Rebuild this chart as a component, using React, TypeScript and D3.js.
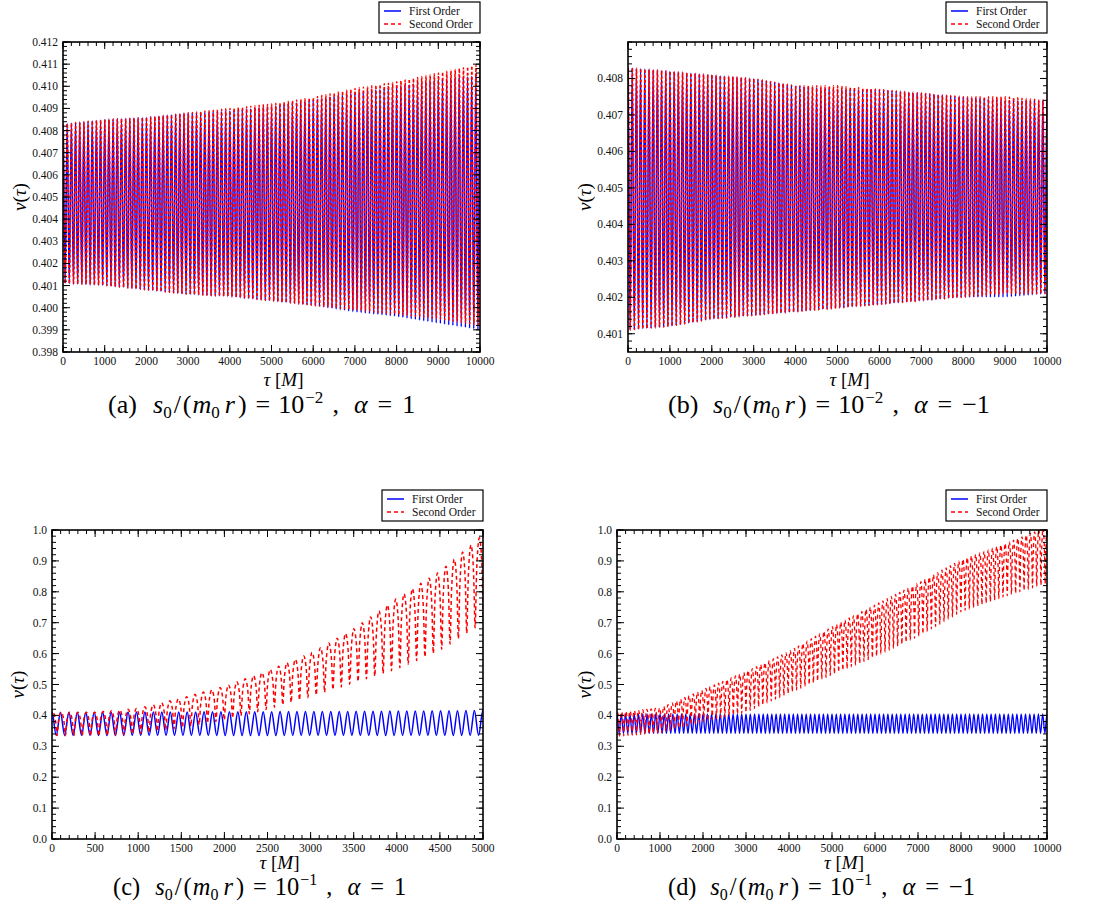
import React from 'react';
import * as d3 from 'd3';

const tauLong = [0, 1000, 2000, 3000, 4000, 5000, 6000, 7000, 8000, 9000, 10000];
const tauShort = [0, 500, 1000, 1500, 2000, 2500, 3000, 3500, 4000, 4500, 5000];

// (a) s0/(m0 r) = 1e-2, alpha = 1
const aFirstUpper = [0.4083, 0.4085, 0.4086, 0.4088, 0.4089, 0.4091, 0.4094, 0.4097, 0.4100, 0.4103, 0.4105];
const aFirstLower = [0.4011, 0.4010, 0.4008, 0.4006, 0.4005, 0.4003, 0.4001, 0.3998, 0.3996, 0.3993, 0.3990];
const aSecondUpper = [0.4083, 0.4085, 0.4086, 0.4088, 0.4090, 0.4092, 0.4095, 0.4099, 0.4102, 0.4106, 0.4110];
const aSecondLower = [0.4011, 0.4010, 0.4008, 0.4006, 0.4005, 0.4003, 0.4001, 0.3999, 0.3997, 0.3995, 0.3992];

// (b) s0/(m0 r) = 1e-2, alpha = -1
const bFirstUpper = [0.4083, 0.4082, 0.4081, 0.4080, 0.4078, 0.4077, 0.4077, 0.4076, 0.4075, 0.4074, 0.4074];
const bFirstLower = [0.4011, 0.4012, 0.4014, 0.4015, 0.4016, 0.4017, 0.4018, 0.4019, 0.4020, 0.4020, 0.4021];
const bSecondUpper = [0.4083, 0.4082, 0.4081, 0.4080, 0.4078, 0.4078, 0.4077, 0.4076, 0.4075, 0.4075, 0.4074];
const bSecondLower = [0.4011, 0.4012, 0.4014, 0.4015, 0.4016, 0.4017, 0.4018, 0.4019, 0.4020, 0.4021, 0.4021];

// (c) s0/(m0 r) = 1e-1, alpha = 1
const cFirstUpper = [0.410, 0.410, 0.411, 0.411, 0.412, 0.412, 0.413, 0.413, 0.414, 0.415, 0.416];
const cFirstLower = [0.335, 0.335, 0.335, 0.335, 0.335, 0.335, 0.335, 0.335, 0.335, 0.335, 0.335];
const cSecondUpper = [0.410, 0.410, 0.423, 0.456, 0.494, 0.545, 0.601, 0.680, 0.779, 0.866, 0.985];
const cSecondLower = [0.335, 0.333, 0.340, 0.360, 0.385, 0.420, 0.460, 0.505, 0.550, 0.610, 0.700];

// (d) s0/(m0 r) = 1e-1, alpha = -1
const dFirstUpper = [0.405, 0.405, 0.405, 0.405, 0.405, 0.405, 0.405, 0.405, 0.405, 0.405, 0.405];
const dFirstLower = [0.342, 0.342, 0.342, 0.342, 0.342, 0.342, 0.342, 0.342, 0.342, 0.342, 0.342];
const dSecondUpper = [0.410, 0.424, 0.483, 0.542, 0.607, 0.687, 0.758, 0.828, 0.903, 0.955, 1.010];
const dSecondLower = [0.332, 0.343, 0.380, 0.410, 0.472, 0.531, 0.590, 0.655, 0.735, 0.784, 0.828];

// oscillation periods
const periodsFirst = [100, 100, 98, 100];
const periodsSecond = [100, 100, 97, 98];

// one cycle, as fraction of the drop from upper to lower envelope
const sineCycle = [0, 1];
const cuspCycle = [0, 0.1, 0.4, 1, 0.4, 0.1];

// tick labels
const yTicksA = [0.398, 0.399, 0.4, 0.401, 0.402, 0.403, 0.404, 0.405, 0.406, 0.407, 0.408, 0.409, 0.41, 0.411, 0.412];
const yTicksB = [0.401, 0.402, 0.403, 0.404, 0.405, 0.406, 0.407, 0.408];
const yTicksCD = [0, 0.1, 0.2, 0.3, 0.4, 0.5, 0.6, 0.7, 0.8, 0.9, 1.0];
const xTicksLong = [0, 1000, 2000, 3000, 4000, 5000, 6000, 7000, 8000, 9000, 10000];
const xTicksShort = [0, 500, 1000, 1500, 2000, 2500, 3000, 3500, 4000, 4500, 5000];

const legendLabels = ['First Order', 'Second Order'];

const BLUE = '#0000ff';
const RED = '#ff0000';
const SERIF = "'Liberation Serif', 'DejaVu Serif', serif";

type Wave = {
  knots: number[];
  upper: number[];
  lower: number[];
  period: number;
  phase: number;
  cycle: number[];
};

function buildWave(w: Wave, tEnd: number): [number, number][] {
  const up = d3.scaleLinear().domain(w.knots).range(w.upper).clamp(true);
  const lo = d3.scaleLinear().domain(w.knots).range(w.lower).clamp(true);
  const step = w.period / w.cycle.length;
  const pts: [number, number][] = [];
  for (let i = 0; ; i++) {
    const t = w.phase - w.period + i * step;
    if (t > tEnd + w.period) break;
    const f = w.cycle[i % w.cycle.length];
    pts.push([t, up(t) - (up(t) - lo(t)) * f]);
  }
  return pts;
}

interface PanelProps {
  id: string;
  left: number;
  right: number;
  top: number;
  bottom: number;
  xDomain: [number, number];
  yDomain: [number, number];
  xTicks: number[];
  yTicks: number[];
  yFormat: string;
  first: Wave;
  second: Wave;
  lineWidth: number;
  dash: string;
  letter: string;
  exponent: string;
  alpha: string;
  labelX: number;
  tauY: number;
  captionX: number;
  captionY: number;
  captionScale: number;
}

const Panel: React.FC<PanelProps> = (p) => {
  const x = d3.scaleLinear().domain(p.xDomain).range([p.left, p.right]);
  const y = d3.scaleLinear().domain(p.yDomain).range([p.bottom, p.top]);
  const line = d3.line<[number, number]>()
    .x(d => x(d[0]))
    .y(d => y(d[1]))
    .curve(d3.curveMonotoneX);

  const xMinor = d3.ticks(p.xDomain[0], p.xDomain[1], 50);
  const yStep = (p.yTicks[1] - p.yTicks[0]) / 5;
  const yMinor = d3.ticks(p.yDomain[0], p.yDomain[1], Math.round((p.yDomain[1] - p.yDomain[0]) / yStep));
  const fmtY = d3.format(p.yFormat);
  const major = 7;
  const minor = 4;
  const cx = (p.left + p.right) / 2;
  const cy = (p.top + p.bottom) / 2;

  const firstPts = buildWave(p.first, p.xDomain[1]);
  const secondPts = buildWave(p.second, p.xDomain[1]);

  // legend box sits just above the top-right corner of the frame
  const lgW = 101;
  const lgH = 31;
  const lgX = p.right - lgW;
  const lgY = p.top - 9 - lgH;

  // caption, spaced out roughly like the TeX original
  const k = p.captionScale;
  const c0 = p.captionX;
  const fs = 26 * k;
  const sub = 17 * k;

  return (
    <g>
      <defs>
        <clipPath id={`clip-${p.id}`}>
          <rect x={p.left} y={p.top} width={p.right - p.left} height={p.bottom - p.top} />
        </clipPath>
      </defs>

      <g clipPath={`url(#clip-${p.id})`}>
        <path d={line(firstPts) || ''} fill="none" stroke={BLUE} strokeWidth={p.lineWidth} />
        <path d={line(secondPts) || ''} fill="none" stroke={RED} strokeWidth={p.lineWidth} strokeDasharray={p.dash} />
      </g>

      {/* ticks on all four sides, pointing inwards */}
      <g stroke="#000" strokeWidth={1}>
        {xMinor.map(t => (
          <g key={`xm${t}`}>
            <line x1={x(t)} x2={x(t)} y1={p.bottom} y2={p.bottom - minor} />
            <line x1={x(t)} x2={x(t)} y1={p.top} y2={p.top + minor} />
          </g>
        ))}
        {p.xTicks.map(t => (
          <g key={`xM${t}`}>
            <line x1={x(t)} x2={x(t)} y1={p.bottom} y2={p.bottom - major} />
            <line x1={x(t)} x2={x(t)} y1={p.top} y2={p.top + major} />
          </g>
        ))}
        {yMinor.map(t => (
          <g key={`ym${t}`}>
            <line x1={p.left} x2={p.left + minor} y1={y(t)} y2={y(t)} />
            <line x1={p.right} x2={p.right - minor} y1={y(t)} y2={y(t)} />
          </g>
        ))}
        {p.yTicks.map(t => (
          <g key={`yM${t}`}>
            <line x1={p.left} x2={p.left + major} y1={y(t)} y2={y(t)} />
            <line x1={p.right} x2={p.right - major} y1={y(t)} y2={y(t)} />
          </g>
        ))}
      </g>

      <rect x={p.left} y={p.top} width={p.right - p.left} height={p.bottom - p.top}
        fill="none" stroke="#000" strokeWidth={1.6} />

      <g fontFamily={SERIF} fontSize={11.5} fill="#111">
        {p.xTicks.map(t => (
          <text key={`xl${t}`} x={x(t)} y={p.bottom + 13} textAnchor="middle">{t}</text>
        ))}
        {p.yTicks.map(t => (
          <text key={`yl${t}`} x={p.left - 5} y={y(t) + 4} textAnchor="end">{fmtY(t)}</text>
        ))}
      </g>

      {/* legend */}
      <g fontFamily={SERIF} fontSize={11.5} fill="#111">
        <rect x={lgX} y={lgY} width={lgW} height={lgH} fill="#fff" stroke="#000" strokeWidth={1.2} />
        <line x1={lgX + 5} x2={lgX + 22} y1={lgY + 9} y2={lgY + 9} stroke={BLUE} strokeWidth={1.5} />
        <text x={lgX + 30} y={lgY + 13}>{legendLabels[0]}</text>
        <line x1={lgX + 5} x2={lgX + 22} y1={lgY + 22} y2={lgY + 22} stroke={RED} strokeWidth={1.5} strokeDasharray="4,3" />
        <text x={lgX + 30} y={lgY + 26}>{legendLabels[1]}</text>
      </g>

      {/* axis titles */}
      <text x={p.labelX} y={cy} transform={`rotate(-90 ${p.labelX} ${cy})`} textAnchor="middle"
        fontFamily={SERIF} fontSize={19} dy="0.35em">
        <tspan fontStyle="italic">v</tspan>
        <tspan>(</tspan>
        <tspan fontStyle="italic">τ</tspan>
        <tspan>)</tspan>
      </text>
      <text x={cx + 12} y={p.tauY} textAnchor="middle" fontFamily={SERIF} fontSize={19}>
        <tspan fontStyle="italic">τ</tspan>
        <tspan>{' ['}</tspan>
        <tspan fontStyle="italic">M</tspan>
        <tspan>]</tspan>
      </text>

      {/* caption */}
      <text y={p.captionY} fontFamily={SERIF} fontSize={fs} fill="#000">
        <tspan x={c0}>({p.letter})</tspan>
        <tspan x={c0 + 45 * k} fontStyle="italic">s</tspan>
        <tspan fontSize={sub} dy={5}>0</tspan>
        <tspan dy={-5} dx={2}>/</tspan>
        <tspan dx={2}>(</tspan>
        <tspan dx={1} fontStyle="italic">m</tspan>
        <tspan fontSize={sub} dy={5}>0</tspan>
        <tspan dy={-5} dx={5} fontStyle="italic">r</tspan>
        <tspan dx={3}>)</tspan>
        <tspan dx={9}>=</tspan>
        <tspan dx={8}>10</tspan>
        <tspan dx={1} fontSize={sub} dy={-10}>{p.exponent}</tspan>
        <tspan dx={9} dy={10}>,</tspan>
        <tspan dx={15} fontStyle="italic">α</tspan>
        <tspan dx={10}>=</tspan>
        <tspan dx={10}>{p.alpha}</tspan>
      </text>
    </g>
  );
};

export default function App() {
  const wave = (knots: number[], upper: number[], lower: number[], period: number, phase: number, cycle: number[]): Wave =>
    ({ knots, upper, lower, period, phase, cycle });

  return (
    <svg width={1098} height={907} style={{ position: 'absolute', left: 0, top: 0, background: '#fff' }}>
      <Panel id="a" left={63} right={480} top={42} bottom={352}
        xDomain={[0, 10000]} yDomain={[0.398, 0.412]} xTicks={xTicksLong} yTicks={yTicksA} yFormat=".3f"
        first={wave(tauLong, aFirstUpper, aFirstLower, periodsFirst[0], 0, sineCycle)}
        second={wave(tauLong, aSecondUpper, aSecondLower, periodsSecond[0], 4, sineCycle)}
        lineWidth={1.5} dash="3,2" letter="a" exponent="−2" alpha="1"
        labelX={19} tauY={386} captionX={108} captionY={413} captionScale={1} />
      <Panel id="b" left={628} right={1047} top={42} bottom={352}
        xDomain={[0, 10000]} yDomain={[0.4005, 0.409]} xTicks={xTicksLong} yTicks={yTicksB} yFormat=".3f"
        first={wave(tauLong, bFirstUpper, bFirstLower, periodsFirst[1], 0, sineCycle)}
        second={wave(tauLong, bSecondUpper, bSecondLower, periodsSecond[1], 4, sineCycle)}
        lineWidth={1.5} dash="3,2" letter="b" exponent="−2" alpha="−1"
        labelX={584} tauY={386} captionX={668} captionY={413} captionScale={1} />
      <Panel id="c" left={52} right={483} top={530} bottom={839}
        xDomain={[0, 5000]} yDomain={[0, 1]} xTicks={xTicksShort} yTicks={yTicksCD} yFormat=".1f"
        first={wave(tauShort, cFirstUpper, cFirstLower, periodsFirst[2], 0, sineCycle)}
        second={wave(tauShort, cSecondUpper, cSecondLower, periodsSecond[2], 10, cuspCycle)}
        lineWidth={1.5} dash="4,3" letter="c" exponent="−1" alpha="1"
        labelX={17} tauY={869} captionX={113} captionY={895} captionScale={0.94} />
      <Panel id="d" left={617} right={1047} top={530} bottom={839}
        xDomain={[0, 10000]} yDomain={[0, 1]} xTicks={xTicksLong} yTicks={yTicksCD} yFormat=".1f"
        first={wave(tauLong, dFirstUpper, dFirstLower, periodsFirst[3], 0, sineCycle)}
        second={wave(tauLong, dSecondUpper, dSecondLower, periodsSecond[3], 10, cuspCycle)}
        lineWidth={1.3} dash="4,3" letter="d" exponent="−1" alpha="−1"
        labelX={584} tauY={869} captionX={668} captionY={895} captionScale={0.94} />
    </svg>
  );
}
